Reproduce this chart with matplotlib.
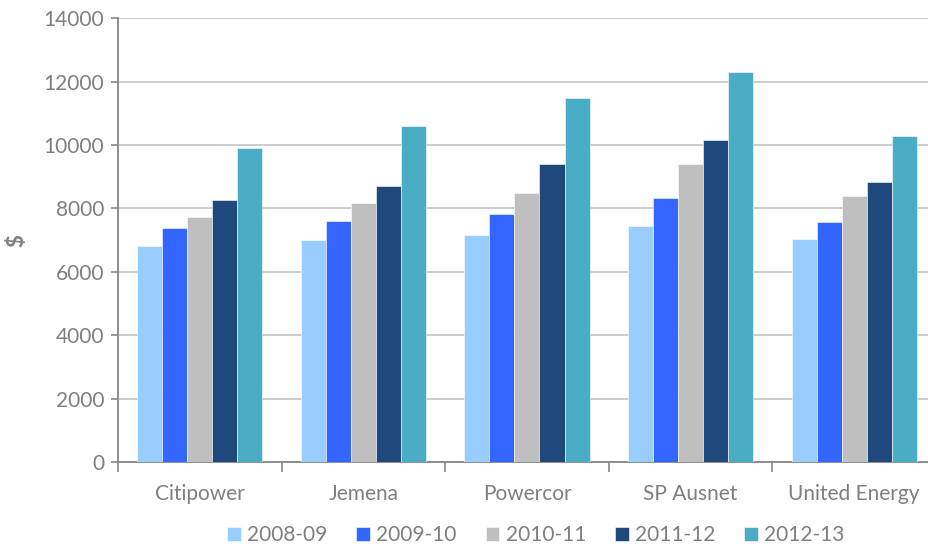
#!/usr/bin/env python3
import matplotlib
matplotlib.use("Agg")
import matplotlib.pyplot as plt
import numpy as np

companies = ["Citipower", "Jemena", "Powercor", "SP Ausnet", "United Energy"]
years = ["2008-09", "2009-10", "2010-11", "2011-12", "2012-13"]

v_2008_09 = [6820, 7000, 7170, 7450, 7035]
v_2009_10 = [7390, 7600, 7830, 8340, 7560]
v_2010_11 = [7730, 8170, 8480, 9400, 8380]
v_2011_12 = [8255, 8705, 9390, 10150, 8825]
v_2012_13 = [9905, 10610, 11485, 12315, 10280]

series = [v_2008_09, v_2009_10, v_2010_11, v_2011_12, v_2012_13]
colors = ["#99CCFF", "#3366FF", "#BFBFBF", "#1F497D", "#4BACC6"]

plt.rcParams['font.family'] = ['Lato', 'DejaVu Sans']
text_gray = "#7F7F7F"
axis_gray = "#868686"

fig = plt.figure(figsize=(9.29, 5.52), dpi=100)
ax = fig.add_axes([0.127, 0.163, 0.8805, 0.804])

x = np.arange(len(companies))
width = 0.153
for i, (vals, c) in enumerate(zip(series, colors)):
    ax.bar(x + (i - 2) * width, vals, width, color=c, label=years[i],
           edgecolor="white", linewidth=0.4, zorder=3)

ax.set_ylim(0, 14000)
ax.set_yticks(np.arange(0, 14001, 2000))
ax.set_xlim(-0.5, len(companies) - 0.5)
ax.yaxis.grid(True, color="#C8C8C8", linewidth=1.3, zorder=0)

ax.set_xticks(x)
ax.set_xticklabels(companies)
ax.set_xticks(np.arange(-0.5, len(companies)), minor=True)
ax.tick_params(axis="x", which="major", length=0, pad=16, labelsize=15, labelcolor=text_gray)
ax.tick_params(axis="x", which="minor", length=7, width=1.2, color=axis_gray)
ax.tick_params(axis="y", length=5, width=1.2, color=axis_gray, labelsize=15, labelcolor=text_gray, pad=5)

for side in ["top", "right"]:
    ax.spines[side].set_visible(False)
for side in ["left", "bottom"]:
    ax.spines[side].set_color(axis_gray)
    ax.spines[side].set_linewidth(1.3)

ax.set_ylabel("$", fontsize=16, fontweight="bold", color=text_gray, labelpad=12)

ax.legend(loc="upper center", bbox_to_anchor=(0.511, -0.1), ncol=5, frameon=False,
          fontsize=15, labelcolor=text_gray, handlelength=0.65, handleheight=0.65,
          handletextpad=0.3, columnspacing=1.4)

plt.savefig("out.png", dpi=100)
